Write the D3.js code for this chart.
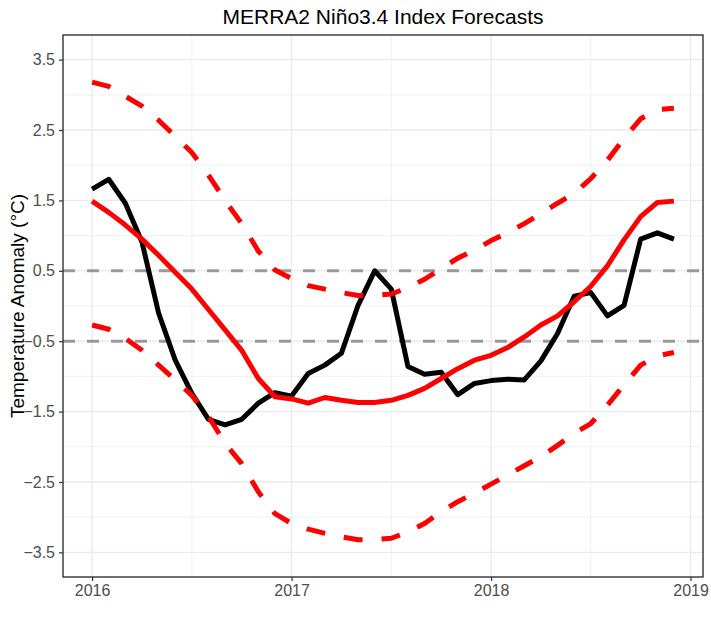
<!DOCTYPE html>
<html>
<head>
<meta charset="utf-8">
<script src="https://cdn.jsdelivr.net/npm/d3@7"></script>
<style>
  body { margin: 0; background: #fff; }
  text { font-family: 'Liberation Sans', Arial, sans-serif; }
</style>
</head>
<body>
<svg id="chart" width="711" height="630"></svg>
<script>
const months = [
  '2016-01', '2016-02', '2016-03', '2016-04', '2016-05', '2016-06',
  '2016-07', '2016-08', '2016-09', '2016-10', '2016-11', '2016-12',
  '2017-01', '2017-02', '2017-03', '2017-04', '2017-05', '2017-06',
  '2017-07', '2017-08', '2017-09', '2017-10', '2017-11', '2017-12',
  '2018-01', '2018-02', '2018-03', '2018-04', '2018-05', '2018-06',
  '2018-07', '2018-08', '2018-09', '2018-10', '2018-11', '2018-12'
]

// observed index (black)
const observed = [
  1.66, 1.80, 1.46, 0.91, -0.10, -0.77, -1.24, -1.61, -1.69, -1.61, -1.38, -1.23,
  -1.28, -0.96, -0.84, -0.67, 0.01, 0.50, 0.24, -0.86, -0.97, -0.94, -1.26, -1.10,
  -1.06, -1.04, -1.05, -0.78, -0.39, 0.14, 0.19, -0.14, 0.01, 0.95, 1.04, 0.95
]

// forecast mean (red) and its bounds (red dashed)
const forecast = [
  1.49, 1.33, 1.15, 0.95, 0.72, 0.48, 0.24, -0.05, -0.34, -0.63, -1.03, -1.29,
  -1.32, -1.38, -1.30, -1.34, -1.37, -1.37, -1.34, -1.27, -1.17, -1.03, -0.89, -0.77,
  -0.70, -0.59, -0.44, -0.27, -0.14, 0.06, 0.28, 0.57, 0.94, 1.27, 1.47, 1.49
]
const upper = [
  3.18, 3.12, 2.98, 2.84, 2.64, 2.41, 2.18, 1.86, 1.50, 1.17, 0.78, 0.51,
  0.39, 0.29, 0.24, 0.19, 0.15, 0.15, 0.17, 0.26, 0.38, 0.53, 0.68, 0.79,
  0.93, 1.04, 1.17, 1.31, 1.46, 1.60, 1.81, 2.07, 2.38, 2.66, 2.79, 2.81
]
const lower = [
  -0.27, -0.33, -0.46, -0.63, -0.84, -1.05, -1.27, -1.57, -1.95, -2.24, -2.64, -2.95,
  -3.09, -3.17, -3.23, -3.28, -3.32, -3.32, -3.30, -3.21, -3.09, -2.92, -2.78, -2.66,
  -2.53, -2.40, -2.27, -2.14, -1.98, -1.81, -1.67, -1.41, -1.12, -0.84, -0.71, -0.66
]

const thresholds = [0.5, -0.5]
const xTicks = [2016, 2017, 2018, 2019]
const xMinor = [2016.5, 2017.5, 2018.5]
const yTicks = [3.5, 2.5, 1.5, 0.5, -0.5, -1.5, -2.5, -3.5]
const yMinor = [3, 2, 1, 0, -1, -2, -3]
const yLimits = [-3.5, 3.5]

const margin = { top: 35, right: 8, bottom: 53, left: 63 }
const width = 711 - margin.left - margin.right
const height = 630 - margin.top - margin.bottom

// month string -> decimal year
const toYear = m => +m.slice(0, 4) + (+m.slice(5) - 1) / 12
const years = months.map(toYear)

/**
 * Adds ggplot-like 5% expansion to a range.
 *
 * @param {number[]} ext The [min, max] to expand
 * @returns {number[]} The expanded range
 */
function expand (ext) {
  const pad = (ext[1] - ext[0]) * 0.05
  return [ext[0] - pad, ext[1] + pad]
}

const xScale = d3.scaleLinear()
  .domain(expand(d3.extent(years)))
  .range([0, width])

const yScale = d3.scaleLinear()
  .domain(expand(yLimits))
  .range([height, 0])

const svg = d3.select('#chart')
const g = svg.append('g')
  .attr('transform', `translate(${margin.left},${margin.top})`)

/**
 * Draws the major and minor grid lines of the panel.
 */
function drawGrid () {
  g.selectAll('.minor-x')
    .data(xMinor)
    .enter()
    .append('line')
    .attr('x1', d => xScale(d)).attr('x2', d => xScale(d))
    .attr('y1', 0).attr('y2', height)
    .attr('stroke', '#ebebeb').attr('stroke-width', 0.7)

  g.selectAll('.minor-y')
    .data(yMinor)
    .enter()
    .append('line')
    .attr('x1', 0).attr('x2', width)
    .attr('y1', d => yScale(d)).attr('y2', d => yScale(d))
    .attr('stroke', '#ebebeb').attr('stroke-width', 0.7)

  g.selectAll('.major-x')
    .data(xTicks)
    .enter()
    .append('line')
    .attr('x1', d => xScale(d)).attr('x2', d => xScale(d))
    .attr('y1', 0).attr('y2', height)
    .attr('stroke', '#ebebeb').attr('stroke-width', 1.4)

  g.selectAll('.major-y')
    .data(yTicks)
    .enter()
    .append('line')
    .attr('x1', 0).attr('x2', width)
    .attr('y1', d => yScale(d)).attr('y2', d => yScale(d))
    .attr('stroke', '#ebebeb').attr('stroke-width', 1.4)
}

/**
 * Draws one series as a line.
 *
 * @param {number[]} values The series values
 * @param {string} color The stroke color
 * @param {string} dash The dash pattern, or null
 */
function drawSeries (values, color, dash) {
  const line = d3.line()
    .x((d, i) => xScale(years[i]))
    .y(d => yScale(d))

  g.append('path')
    .datum(values)
    .attr('d', line)
    .attr('fill', 'none')
    .attr('stroke', color)
    .attr('stroke-width', 5)
    .attr('stroke-linejoin', 'round')
    .attr('stroke-dasharray', dash)
}

/**
 * Draws the axes, panel border and texts.
 */
function drawAxes () {
  const xAxis = g.append('g')
    .attr('transform', `translate(0,${height})`)
    .call(d3.axisBottom(xScale).tickValues(xTicks).tickFormat(d3.format('d'))
      .tickSize(4).tickPadding(4))
  const yAxis = g.append('g')
    .call(d3.axisLeft(yScale).tickValues(yTicks).tickFormat(d3.format('.1f'))
      .tickSize(4).tickPadding(4))

  for (const ax of [xAxis, yAxis]) {
    ax.select('.domain').remove()
    ax.selectAll('line').attr('stroke', '#333333').attr('stroke-width', 1.2)
    ax.selectAll('text')
      .attr('fill', '#4d4d4d')
      .style('font-size', '16px')
      .style('font-family', "'Liberation Sans', Arial, sans-serif")
  }

  g.append('rect')
    .attr('width', width)
    .attr('height', height)
    .attr('fill', 'none')
    .attr('stroke', '#333333')
    .attr('stroke-width', 1.4)

  svg.append('text')
    .attr('x', margin.left + width / 2)
    .attr('y', 24)
    .attr('text-anchor', 'middle')
    .style('font-size', '21px')
    .text('MERRA2 Niño3.4 Index Forecasts')

  svg.append('text')
    .attr('transform', `translate(24,${margin.top + height / 2}) rotate(-90)`)
    .attr('text-anchor', 'middle')
    .style('font-size', '19px')
    .text('Temperature Anomaly (°C)')
}

drawGrid()

g.selectAll('.threshold')
  .data(thresholds)
  .enter()
  .append('line')
  .attr('x1', 0).attr('x2', width)
  .attr('y1', d => yScale(d)).attr('y2', d => yScale(d))
  .attr('stroke', '#999999')
  .attr('stroke-width', 3)
  .attr('stroke-dasharray', '12,12')

drawSeries(observed, '#000000', null)
drawSeries(forecast, '#ff0000', null)
drawSeries(upper, '#ff0000', '19,19')
drawSeries(lower, '#ff0000', '19,19')

drawAxes()
</script>
</body>
</html>
